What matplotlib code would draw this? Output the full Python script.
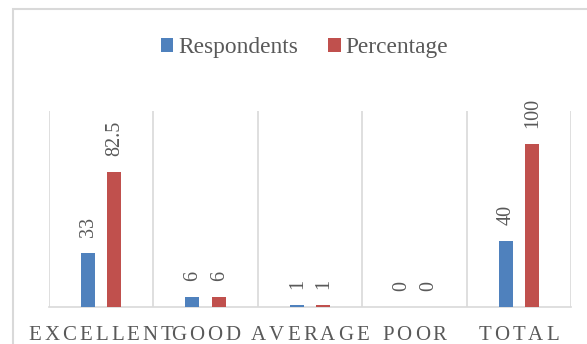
import matplotlib
matplotlib.use("Agg")
import matplotlib.pyplot as plt
from matplotlib import font_manager
from matplotlib.font_manager import FontProperties
from matplotlib.ft2font import FT2Font
from matplotlib.patches import Rectangle
from matplotlib.transforms import blended_transform_factory, ScaledTranslation
import numpy as np

categories = ["EXCELLENT", "GOOD", "AVERAGE", "POOR", "TOTAL"]
respondents = [33, 6, 1, 0, 40]
percentage = [82.5, 6, 1, 0, 100]
series_names = ["Respondents", "Percentage"]

BLUE = "#4F81BD"
RED = "#C0504D"
TEXT = "#595959"
GRID = "#D9D9D9"
SERIF = "Liberation Serif"
DPI = 100

fig = plt.figure(figsize=(5.87, 3.44), dpi=DPI)
W, H = 587, 344

# chart-area border
fig.patches.append(Rectangle((12.5 / W, -0.05), 1.0, 1 - 9.0 / H + 0.05,
                             transform=fig.transFigure, fill=False,
                             edgecolor=GRID, linewidth=1.5, zorder=0))

ax = fig.add_axes([48.7 / W, 1 - 306.7 / H, (571 - 48.7) / W, (306.7 - 111) / H])
x = np.arange(len(categories))
bw = 0.134
off = 0.127
b1 = ax.bar(x - off, respondents, bw, color=BLUE, label=series_names[0], zorder=3)
b2 = ax.bar(x + off, percentage, bw, color=RED, label=series_names[1], zorder=3)

ax.set_xlim(-0.5, len(categories) - 0.5)
ax.set_ylim(0, 120)
for s in ["top", "left", "right"]:
    ax.spines[s].set_visible(False)
ax.spines["bottom"].set_color(GRID)
ax.spines["bottom"].set_linewidth(1.2)
ax.set_yticks([])
ax.set_xticks([])
for b in np.arange(-0.5, len(categories), 1.0):
    ax.axvline(b, color=GRID, linewidth=1.2, zorder=1)

# rotated value labels above bars
lab_fp = FontProperties(family=SERIF, size=14.5)
for bars, vals in ((b1, respondents), (b2, percentage)):
    for rect, v in zip(bars, vals):
        cx = rect.get_x() + rect.get_width() / 2
        t = ax.text(cx, v, f"{v:g}", rotation=90, ha="center", va="bottom",
                    fontproperties=lab_fp, color=TEXT)
        t.set_transform(ax.transData + ScaledTranslation(0.01, 16 / DPI, fig.dpi_scale_trans))

# letter-spaced category labels
cat_size = 15
cat_fp = FontProperties(family=SERIF, size=cat_size)
ft = FT2Font(font_manager.findfont(cat_fp))
ft.set_size(cat_size, DPI)

def advance_px(ch):
    g = ft.load_char(ord(ch))
    return g.linearHoriAdvance / 65536.0

spacing = 3.0
base = blended_transform_factory(ax.transData, fig.transFigure)
for xi, name in zip(x, categories):
    adv = [advance_px(c) for c in name]
    total = sum(adv) + (len(name) - 1) * spacing
    pos = -total / 2
    for ch, a in zip(name, adv):
        t = ax.text(xi, 1 - 339.5 / H, ch, ha="left", va="baseline",
                    fontproperties=cat_fp, color=TEXT, clip_on=False)
        t.set_transform(base + ScaledTranslation(pos / DPI, 0, fig.dpi_scale_trans))
        pos += a + spacing

leg = fig.legend(handles=[b1, b2], labels=series_names, loc="center",
                 bbox_to_anchor=(304.5 / W, 1 - 47.5 / H), ncol=2, frameon=False,
                 prop=FontProperties(family=SERIF, size=16.8),
                 handlelength=0.55, handleheight=0.55, handletextpad=0.2,
                 columnspacing=1.3)
for t in leg.get_texts():
    t.set_color(TEXT)

fig.savefig("out.png", dpi=DPI)
